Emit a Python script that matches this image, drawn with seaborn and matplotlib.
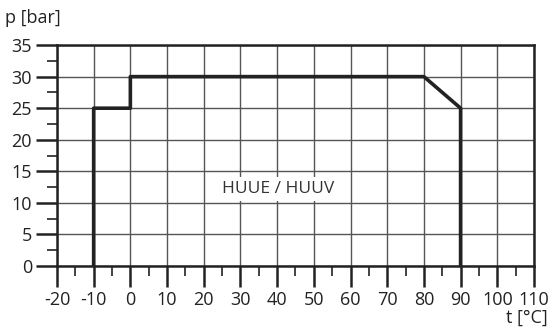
import matplotlib
matplotlib.use("Agg")
import matplotlib.pyplot as plt
import seaborn as sns
import pandas as pd
from matplotlib.ticker import MultipleLocator

# operating envelope
temp = [-10, -10, 0, 0, 80, 90, 90]
pressure = [0, 25, 25, 30, 30, 25, 0]
x_ticks = list(range(-20, 111, 10))
y_ticks = list(range(0, 36, 5))
label = "HUUE / HUUV"

sns.set_style("white")
plt.rcParams['font.family'] = ['Open Sans', 'DejaVu Sans']
plt.rcParams['axes.unicode_minus'] = False

df = pd.DataFrame({'t': temp, 'p': pressure})

fig = plt.figure(figsize=(5.51, 3.29), dpi=100)
ax = fig.add_axes([0.1034, 0.1915, 0.8657, 0.6715])

sns.lineplot(data=df, x='t', y='p', sort=False, estimator=None, ax=ax,
             color='#222222', linewidth=2.6, zorder=3)

ax.set_xlim(-20, 110)
ax.set_ylim(0, 35)
ax.set_xticks(x_ticks)
ax.set_yticks(y_ticks)
ax.xaxis.set_minor_locator(MultipleLocator(5))
ax.yaxis.set_minor_locator(MultipleLocator(2.5))
ax.grid(True, which='major', color='#555555', linewidth=1.0)
ax.tick_params(axis='both', which='major', direction='out', length=15, width=1.8,
               color='#222222', labelsize=13, pad=3, labelcolor='#222222',
               bottom=True, left=True)
ax.tick_params(axis='both', which='minor', direction='out', length=7, width=1.2,
               color='#222222', bottom=True, left=True)
for s in ax.spines.values():
    s.set_color('#222222')
    s.set_linewidth(1.8)

ax.set_xlabel('')
ax.set_ylabel('')
ax.text(40.2, 12.2, label, ha='center', va='center', fontsize=12.5, color='#333333',
        zorder=4, bbox=dict(facecolor='white', edgecolor='none', pad=3))
fig.text(0.009, 0.945, 'p [bar]', ha='left', va='center', fontsize=13, color='#222222')
fig.text(0.995, 0.035, 't [°C]', ha='right', va='center', fontsize=13, color='#222222')

plt.savefig('out.png', dpi=100)
plt.close()
